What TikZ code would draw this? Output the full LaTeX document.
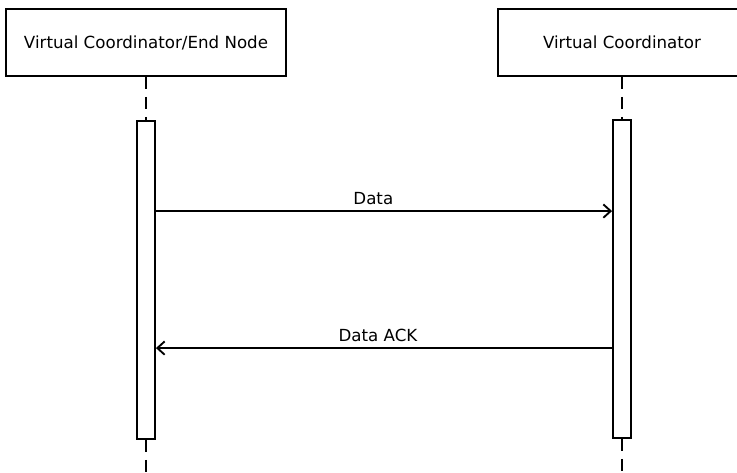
\documentclass[tikz,border=0pt]{standalone}
\usepackage{fontspec}
\setmainfont{DejaVu Sans}
\usetikzlibrary{positioning, arrows.meta}

\begin{document}
\begin{tikzpicture}[
    x=0.75pt, y=-0.75pt,
    actor/.style={draw, rectangle, line width=1.4pt, minimum width=210pt, minimum height=50pt, align=center, font=\fontsize{12.5}{14}\selectfont},
    activation/.style={draw, rectangle, line width=1.4pt, minimum width=13.5pt, minimum height=238.5pt, fill=white},
    lifeline/.style={dash pattern=on 9pt off 6pt, line width=0.9pt},
    msg/.style={-{Straight Barb[length=5.5pt, width=10pt, line width=1.4pt]}, line width=1.2pt},
    lbl/.style={above, font=\fontsize{12.5}{14}\selectfont, inner sep=4pt},
]
\useasboundingbox (0,0) rectangle (737,473);

% Participants
\node[actor] (vcen) at (146,42.5) {Virtual Coordinator/End Node};
\node[actor, minimum width=186pt] (vc) at (622,42.5) {Virtual Coordinator};

% Activation bars
\node[activation] (actL) at (146,280) {};
\node[activation] (actR) at (622,279) {};

% Lifelines
\coordinate (endL) at (146,475);
\coordinate (endR) at (622,475);
\draw[lifeline] (vcen) -- (actL);
\draw[lifeline] (vc) -- (actR);
\draw[lifeline] (actL) -- (endL);
\draw[lifeline] (actR) -- (endR);

% Messages
\coordinate (dataY) at ([yshift=-68.25pt]actL.north east);
\coordinate (ackY) at ([yshift=-171.75pt]actR.north west);
\draw[msg] (dataY) -- (dataY -| actR.west) node[midway, lbl, xshift=-8pt] {Data};
\draw[msg] (ackY) -- (ackY -| actL.east) node[midway, lbl, xshift=-4.5pt] {Data ACK};

\end{tikzpicture}
\end{document}
